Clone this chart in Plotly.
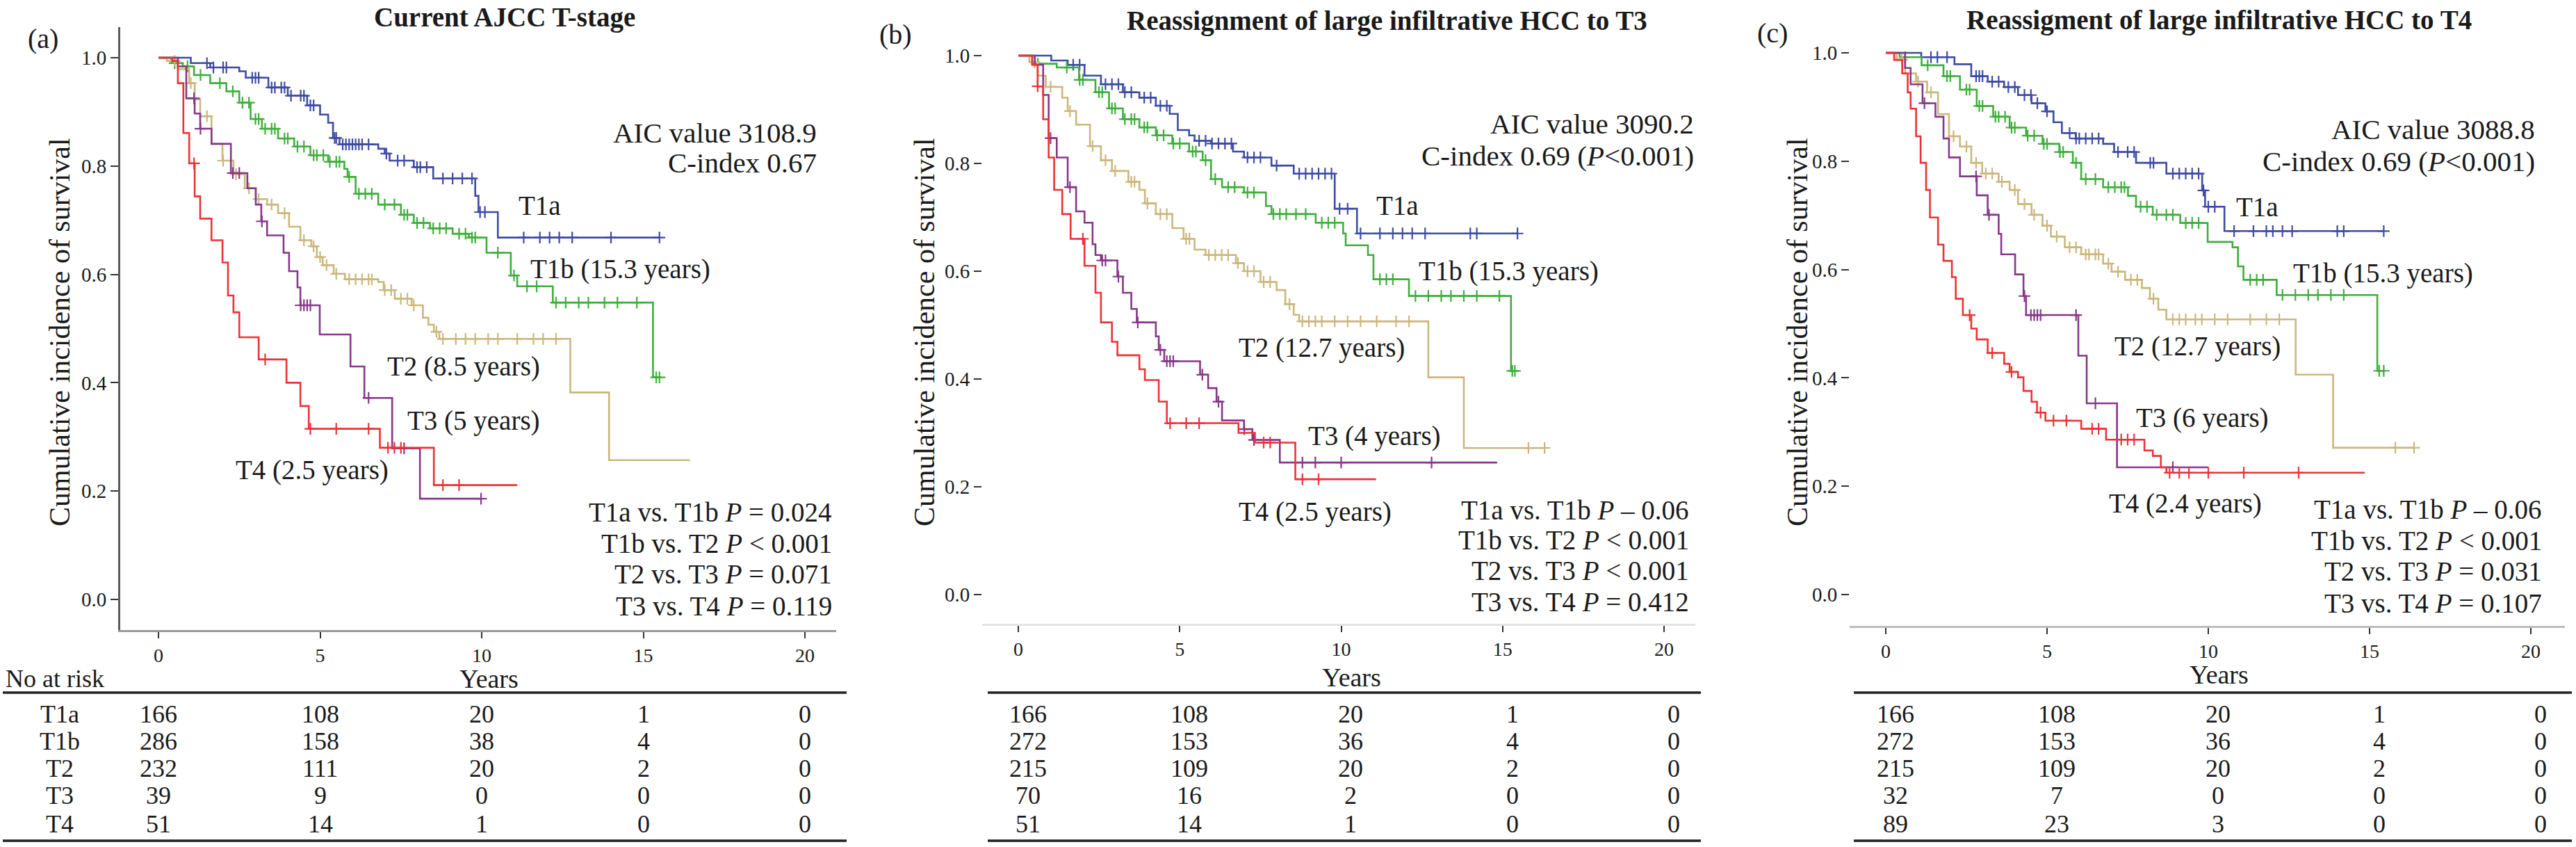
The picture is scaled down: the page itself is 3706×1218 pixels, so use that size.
import numpy as np
import plotly.graph_objects as go

W, H = 3706, 1218
FONT = "Liberation Serif, Times New Roman, serif"
TXT = "#1a1a1a"

groups = ["T1a", "T1b", "T2", "T3", "T4"]
colors = {"T1a": "#3d4ba3", "T1b": "#3fae3c", "T2": "#cbb77c", "T3": "#86378a", "T4": "#ec3236"}
year_ticks = [0, 5, 10, 15, 20]
surv_ticks = [0.0, 0.2, 0.4, 0.6, 0.8, 1.0]

# ---------------- Panel (a): Current AJCC T-stage ----------------
a_T1a_t = [1.0, 1.6, 2.5, 2.7, 3.4, 4.0, 4.6, 5.0, 5.25, 5.4, 5.6, 6.8, 7.0, 7.15, 7.9, 8.5, 9.8, 9.9, 10.5]
a_T1a_s = [0.99, 0.982, 0.975, 0.963, 0.945, 0.93, 0.912, 0.895, 0.88, 0.852, 0.84, 0.832, 0.823, 0.81, 0.798, 0.777, 0.745, 0.715, 0.668]
a_T1a_end = 15.5
a_T1a_c = [1.5, 1.7, 2.0, 2.1, 2.9, 3.0, 3.1, 3.5, 3.6, 3.8, 3.9, 4.1, 4.4, 4.5, 4.7, 4.8, 5.45, 5.5, 5.7, 5.8, 5.9, 6.0,
           6.1, 6.2, 6.3, 6.5, 7.05, 7.4, 7.6, 8.0, 8.1, 8.3, 8.8, 9.1, 9.4, 9.7, 9.95, 10.1, 11.3, 11.8, 12.1, 12.4,
           12.8, 14.0, 15.5]
a_T1b_t = [0.4, 0.75, 1.1, 1.6, 2.1, 2.5, 2.85, 3.2, 3.7, 4.2, 4.7, 5.25, 5.75, 5.85, 6.1, 6.8, 7.5, 7.9, 8.4, 9.1,
           9.6, 10.15, 10.9, 11.1, 12.2, 15.3]
a_T1b_s = [0.99, 0.984, 0.968, 0.953, 0.938, 0.917, 0.887, 0.869, 0.851, 0.836, 0.82, 0.808, 0.795, 0.78, 0.749,
           0.729, 0.71, 0.695, 0.685, 0.675, 0.668, 0.64, 0.598, 0.578, 0.548, 0.41]
a_T1b_end = 15.5
a_T1b_c = [0.5, 0.6, 0.9, 1.3, 1.9, 2.3, 2.6, 2.8, 3.0, 3.1, 3.3, 3.5, 3.6, 3.9, 4.0, 4.3, 4.5, 4.8, 4.9, 5.1, 5.3,
           5.5, 5.6, 5.9, 6.2, 6.4, 6.6, 7.0, 7.3, 7.6, 7.7, 8.0, 8.2, 8.5, 8.7, 8.9, 9.3, 9.5, 9.7, 9.8, 10.5, 11.0,
           11.4, 11.7, 12.3, 12.6, 13.0, 13.3, 13.8, 14.2, 14.8, 15.4, 15.5]
a_T2_t = [0.26, 0.6, 0.95, 1.12, 1.29, 1.64, 1.98, 2.32, 2.67, 3.01, 3.36, 3.7, 4.04, 4.39, 4.73, 4.9, 5.08, 5.42,
          5.77, 6.8, 6.97, 7.31, 7.83, 8.18, 8.35, 8.52, 8.69, 12.74, 13.94]
a_T2_s = [0.994, 0.979, 0.953, 0.923, 0.892, 0.841, 0.81, 0.785, 0.759, 0.739, 0.729, 0.713, 0.688, 0.663, 0.652,
          0.632, 0.617, 0.601, 0.591, 0.586, 0.571, 0.555, 0.543, 0.52, 0.507, 0.494, 0.481, 0.382, 0.257]
a_T2_end = 16.44
a_T2_c = [0.5, 1.0, 1.5, 2.0, 2.4, 2.8, 3.1, 3.5, 3.9, 4.5, 4.8, 5.0, 5.2, 5.5, 5.9, 6.1, 6.3, 6.5, 6.6, 7.0, 7.2,
          7.5, 7.7, 7.9, 8.6, 8.8, 9.2, 9.5, 9.8, 10.2, 10.5, 11.1, 11.6, 11.9, 12.3]
a_T3_t = [0.6, 0.86, 1.12, 1.29, 1.64, 2.24, 2.75, 3.01, 3.18, 3.36, 3.87, 4.04, 4.3, 4.39, 4.99, 5.94, 6.37, 7.23, 8.09]
a_T3_s = [0.984, 0.925, 0.897, 0.869, 0.841, 0.787, 0.759, 0.729, 0.698, 0.672, 0.64, 0.606, 0.576, 0.543, 0.489,
          0.43, 0.372, 0.279, 0.186]
a_T3_end = 9.98
a_T3_c = [1.1, 1.3, 2.3, 2.5, 3.2, 4.4, 4.5, 4.6, 4.7, 6.5, 7.6, 9.98]
a_T4_t = [0.43, 0.6, 0.77, 0.95, 1.12, 1.29, 1.64, 1.98, 2.15, 2.32, 2.5, 3.1, 3.96, 4.39, 4.65, 6.85, 8.52]
a_T4_s = [0.994, 0.953, 0.861, 0.805, 0.744, 0.703, 0.663, 0.622, 0.561, 0.53, 0.484, 0.443, 0.4, 0.357, 0.315,
          0.28, 0.211]
a_T4_end = 11.1
a_T4_c = [1.1, 3.3, 4.7, 5.5, 6.5, 7.1, 7.3, 7.5, 8.8, 9.3]

# ---------------- Panel (b): reassignment to T3 ----------------
b_T1a_t = [1.02, 1.53, 2.05, 2.56, 3.24, 3.75, 4.26, 4.69, 4.94, 5.29, 5.46, 5.97, 6.65, 6.99, 7.84, 8.53, 9.8, 10.49]
b_T1a_s = [0.991, 0.983, 0.963, 0.947, 0.932, 0.922, 0.907, 0.892, 0.862, 0.852, 0.842, 0.837, 0.822, 0.811, 0.796,
           0.781, 0.716, 0.67]
b_T1a_end = 15.46
b_T1a_c = [1.7, 1.9, 2.7, 2.9, 3.1, 3.3, 3.5, 3.9, 4.1, 4.4, 4.6, 5.6, 5.8, 6.0, 6.2, 6.4, 6.6, 7.1, 7.3, 7.5, 8.0,
           8.7, 8.9, 9.1, 9.3, 9.5, 9.7, 9.95, 10.2, 10.6, 11.2, 11.6, 11.9, 12.2, 12.6, 14.0, 14.2, 15.46]
b_T1b_t = [0.43, 1.19, 1.88, 2.39, 2.81, 3.24, 3.75, 4.26, 4.77, 5.29, 5.71, 5.97, 6.31, 6.99, 7.67, 7.84, 9.21,
           10.06, 10.14, 10.83, 11.0, 12.1, 15.26]
b_T1b_s = [0.985, 0.978, 0.955, 0.932, 0.902, 0.882, 0.867, 0.852, 0.837, 0.822, 0.806, 0.771, 0.756, 0.746, 0.721,
           0.706, 0.69, 0.67, 0.648, 0.63, 0.585, 0.554, 0.415]
b_T1b_end = 15.38
b_T1b_c = [0.6, 1.5, 1.9, 2.0, 2.5, 2.6, 2.9, 3.0, 3.3, 3.5, 3.6, 3.9, 4.0, 4.3, 4.5, 4.8, 5.0, 5.4, 5.5, 5.8, 6.1,
           6.5, 6.7, 7.1, 7.3, 7.9, 8.1, 8.3, 8.6, 8.9, 9.4, 9.6, 9.8, 11.2, 11.4, 11.6, 12.3, 12.7, 13.1, 13.4,
           13.8, 14.2, 14.9, 15.3, 15.38]
b_T2_t = [0.34, 0.6, 0.85, 1.36, 1.53, 1.79, 2.22, 2.56, 2.9, 3.41, 3.75, 3.92, 4.26, 4.77, 5.12, 5.46, 5.8, 6.74,
          6.99, 7.5, 8.0, 8.27, 8.53, 8.7, 12.7, 13.8]
b_T2_s = [0.988, 0.963, 0.942, 0.922, 0.897, 0.872, 0.832, 0.806, 0.786, 0.766, 0.751, 0.726, 0.706, 0.68, 0.66,
          0.64, 0.63, 0.615, 0.6, 0.58, 0.565, 0.539, 0.519, 0.507, 0.403, 0.272]
b_T2_end = 16.3
b_T2_c = [0.5, 1.0, 1.6, 2.3, 2.7, 3.0, 3.5, 3.6, 4.0, 4.4, 4.6, 5.2, 5.3, 5.9, 6.1, 6.3, 6.5, 6.8, 7.1, 7.3, 7.6,
          7.8, 8.4, 8.8, 9.0, 9.2, 9.4, 9.8, 10.2, 10.6, 11.1, 11.7, 12.1, 15.8, 16.3]
b_T3_t = [0.51, 0.77, 0.94, 1.19, 1.53, 1.79, 2.05, 2.3, 2.39, 2.56, 3.07, 3.24, 3.5, 3.67, 4.26, 4.35, 4.52, 5.63,
          5.88, 6.14, 6.31, 6.99, 7.25, 8.1]
b_T3_s = [0.983, 0.927, 0.847, 0.811, 0.756, 0.711, 0.69, 0.65, 0.63, 0.62, 0.59, 0.56, 0.53, 0.505, 0.479, 0.454,
          0.433, 0.408, 0.383, 0.358, 0.323, 0.307, 0.287, 0.245]
b_T3_end = 14.83
b_T3_c = [1.0, 1.6, 2.6, 2.7, 3.1, 3.7, 4.4, 4.6, 4.7, 4.8, 5.7, 6.2, 7.0, 7.3, 8.8, 9.2, 10.0, 12.8]
b_T4_t = [0.43, 0.6, 0.77, 0.94, 1.11, 1.36, 1.62, 2.05, 2.39, 2.56, 2.9, 3.07, 3.75, 3.92, 4.35, 4.6, 6.82, 7.33, 8.58]
b_T4_s = [0.983, 0.943, 0.882, 0.811, 0.751, 0.706, 0.66, 0.61, 0.56, 0.505, 0.469, 0.444, 0.418, 0.398, 0.358,
          0.318, 0.30, 0.282, 0.214]
b_T4_end = 11.08
b_T4_c = [0.6, 2.0, 4.7, 5.2, 5.6, 7.6, 7.8, 8.8, 9.3]

# ---------------- Panel (c): reassignment to T4 ----------------
c_T1a_t = [1.1, 2.13, 2.65, 3.16, 3.67, 4.1, 4.52, 4.95, 5.2, 5.46, 5.89, 6.74, 7.08, 7.76, 8.7, 9.81, 9.9, 10.5]
c_T1a_s = [0.992, 0.979, 0.957, 0.947, 0.937, 0.922, 0.907, 0.892, 0.872, 0.852, 0.842, 0.832, 0.817, 0.797, 0.777,
           0.746, 0.716, 0.671]
c_T1a_end = 15.44
c_T1a_c = [1.4, 1.6, 1.9, 2.8, 2.9, 3.0, 3.3, 3.5, 3.8, 4.0, 4.3, 4.5, 4.7, 5.0, 5.7, 5.9, 6.0, 6.2, 6.4, 6.6, 7.2,
           7.5, 7.7, 8.2, 8.3, 8.9, 9.1, 9.3, 9.5, 9.7, 9.85, 10.0, 10.2, 10.8, 11.4, 11.8, 12.0, 12.3, 12.6, 14.0,
           14.2, 15.44]
c_T1b_t = [0.43, 1.11, 1.79, 2.3, 2.82, 3.33, 3.84, 4.35, 4.86, 5.38, 5.8, 6.06, 6.74, 7.51, 7.76, 8.28, 9.13, 9.98,
           10.75, 10.92, 11.09, 12.12, 15.24]
c_T1b_s = [0.992, 0.977, 0.957, 0.932, 0.902, 0.882, 0.862, 0.847, 0.832, 0.817, 0.797, 0.767, 0.752, 0.736, 0.716,
           0.701, 0.686, 0.651, 0.641, 0.606, 0.581, 0.553, 0.413]
c_T1b_end = 15.44
c_T1b_c = [0.6, 1.3, 1.9, 2.0, 2.5, 2.6, 2.9, 3.0, 3.4, 3.5, 3.7, 3.9, 4.0, 4.4, 4.6, 4.9, 5.0, 5.4, 5.5, 5.9, 6.2,
           6.5, 6.9, 7.1, 7.3, 7.4, 7.9, 8.1, 8.4, 8.7, 8.9, 9.3, 9.5, 9.7, 11.3, 11.5, 11.7, 12.3, 12.7, 13.1, 13.4,
           13.8, 14.2, 15.3, 15.44]
c_T2_t = [0.34, 0.6, 0.94, 1.28, 1.62, 1.96, 2.3, 2.65, 2.99, 3.5, 3.84, 4.1, 4.52, 4.86, 5.12, 5.55, 6.06, 6.74,
          7.0, 7.42, 7.94, 8.19, 8.45, 8.7, 12.71, 13.87]
c_T2_s = [0.987, 0.962, 0.947, 0.927, 0.887, 0.846, 0.827, 0.797, 0.777, 0.762, 0.747, 0.721, 0.701, 0.681, 0.661,
          0.641, 0.628, 0.611, 0.596, 0.581, 0.566, 0.546, 0.526, 0.508, 0.406, 0.271]
c_T2_end = 16.38
c_T2_c = [0.5, 1.0, 1.4, 2.1, 2.5, 2.8, 3.1, 3.3, 3.6, 4.0, 4.3, 4.6, 5.0, 5.3, 5.7, 5.9, 6.2, 6.3, 6.5, 6.6, 6.9,
          7.2, 7.6, 7.8, 8.3, 8.9, 9.1, 9.3, 9.6, 9.8, 10.2, 10.6, 11.3, 11.8, 12.2, 15.8, 16.38]
c_T3_t = [0.6, 0.77, 1.14, 1.54, 1.79, 1.96, 2.3, 2.82, 3.16, 3.5, 3.58, 4.01, 4.27, 4.35, 5.97, 6.23, 7.17]
c_T3_s = [0.972, 0.942, 0.907, 0.882, 0.842, 0.807, 0.772, 0.737, 0.701, 0.666, 0.628, 0.591, 0.551, 0.516, 0.441,
          0.353, 0.235]
c_T3_end = 9.98
c_T3_c = [1.2, 2.8, 3.2, 4.3, 4.5, 4.6, 4.7, 4.8, 5.9, 6.5, 8.9]
c_T4_t = [0.26, 0.51, 0.68, 0.77, 0.94, 1.08, 1.25, 1.37, 1.62, 1.79, 2.05, 2.17, 2.39, 2.65, 2.82, 3.16, 3.67, 3.84,
          4.1, 4.27, 4.52, 4.69, 4.95, 6.06, 6.83, 8.02, 8.28, 8.53, 8.7]
c_T4_s = [0.987, 0.962, 0.927, 0.897, 0.846, 0.797, 0.747, 0.696, 0.646, 0.616, 0.586, 0.546, 0.516, 0.491, 0.471,
          0.446, 0.426, 0.411, 0.401, 0.376, 0.356, 0.336, 0.321, 0.306, 0.286, 0.266, 0.256, 0.235, 0.225]
c_T4_end = 14.85
c_T4_c = [2.6, 3.3, 3.9, 4.8, 5.2, 5.6, 6.4, 6.6, 7.3, 7.5, 7.7, 8.8, 9.1, 9.4, 10.0, 11.1, 12.8]

# ---------------- Numbers at risk ----------------
a_risk = {"T1a": [166, 108, 20, 1, 0], "T1b": [286, 158, 38, 4, 0], "T2": [232, 111, 20, 2, 0],
          "T3": [39, 9, 0, 0, 0], "T4": [51, 14, 1, 0, 0]}
b_risk = {"T1a": [166, 108, 20, 1, 0], "T1b": [272, 153, 36, 4, 0], "T2": [215, 109, 20, 2, 0],
          "T3": [70, 16, 2, 0, 0], "T4": [51, 14, 1, 0, 0]}
c_risk = {"T1a": [166, 108, 20, 1, 0], "T1b": [272, 153, 36, 4, 0], "T2": [215, 109, 20, 2, 0],
          "T3": [32, 7, 0, 0, 0], "T4": [89, 23, 3, 0, 0]}

# ---------------- Text ----------------
titles = ["Current AJCC T-stage", "Reassignment of large infiltrative HCC to T3",
          "Reassigment of large infiltrative HCC to T4"]
panel_tags = ["(a)", "(b)", "(c)"]
aic_text = ["AIC value 3108.9", "AIC value 3090.2", "AIC value 3088.8"]
cidx_text = ["C-index 0.67", "C-index 0.69 (<i>P</i><0.001)", "C-index 0.69 (<i>P</i><0.001)"]
curve_labels = [
    ["T1a", "T1b (15.3 years)", "T2 (8.5 years)", "T3 (5 years)", "T4 (2.5 years)"],
    ["T1a", "T1b (15.3 years)", "T2 (12.7 years)", "T3 (4 years)", "T4 (2.5 years)"],
    ["T1a", "T1b (15.3 years)", "T2 (12.7 years)", "T3 (6 years)", "T4 (2.4 years)"],
]
pval_text = [
    ["T1a vs. T1b <i>P</i> = 0.024", "T1b vs. T2 <i>P</i> < 0.001", "T2 vs. T3 <i>P</i> = 0.071",
     "T3 vs. T4 <i>P</i> = 0.119"],
    ["T1a vs. T1b <i>P</i> – 0.06", "T1b vs. T2 <i>P</i> < 0.001", "T2 vs. T3 <i>P</i> < 0.001",
     "T3 vs. T4 <i>P</i> = 0.412"],
    ["T1a vs. T1b <i>P</i> – 0.06", "T1b vs. T2 <i>P</i> < 0.001", "T2 vs. T3 <i>P</i> = 0.031",
     "T3 vs. T4 <i>P</i> = 0.107"],
]

G = globals()
panels_data = []
for p in "abc":
    d = {}
    for g in groups:
        d[g] = (G[f"{p}_{g}_t"], G[f"{p}_{g}_s"], G[f"{p}_{g}_end"], G[f"{p}_{g}_c"])
    panels_data.append(d)
risks = [a_risk, b_risk, c_risk]

# ---------------- Layout geometry (pixels) ----------------
geo = [
    dict(xl=173, xr=1203, x0=228, x20=1158, yt=39, yb=906, y1=83, y0=862,
         yline=True, xline_col="#9a9a9a", yline_col="#5a5a5a",
         title=(726, 25), tag=(62, 55), aic=(1177, 191), cidx=(1177, 234),
         lab=[(744, 295), (761, 387), (555, 527), (584, 605), (337, 676)],
         pv=(1199, [736, 781, 826, 871]), ytitle=(86, 478), years=(703, 976),
         table=(4, 1218), risk_dx=0.0),
    dict(xl=1413, xr=2439, x0=1465, x20=2394, yt=37, yb=897, y1=80, y0=855,
         yline=False, xline_col="#e4e4e4", yline_col="#5a5a5a",
         title=(1995, 30), tag=(1288, 49), aic=(2439, 178), cidx=(2439, 224),
         lab=[(1978, 295), (2039, 390), (1780, 500), (1880, 627), (1780, 736)],
         pv=(2432, [733, 776, 820, 865]), ytitle=(1330, 478), years=(1944, 974),
         table=(1421, 2447), risk_dx=0.3),
    dict(xl=2661, xr=3690, x0=2713, x20=3641, yt=36, yb=900, y1=76, y0=855,
         yline=False, xline_col="#bdbdbd", yline_col="#5a5a5a",
         title=(3192, 29), tag=(2550, 47), aic=(3649, 186), cidx=(3649, 232),
         lab=[(3215, 297), (3297, 393), (3040, 498), (3071, 601), (3032, 724)],
         pv=(3659, [732, 777, 822, 867]), ytitle=(2586, 478), years=(3192, 970),
         table=(2667, 3700), risk_dx=0.3),
]
row_y = [1027, 1066, 1105, 1144, 1185]


def px(x):
    return x / W


def py(y):
    return 1 - y / H


fig = go.Figure()
annotations = []
shapes = []
layout_axes = {}

for i, (d, gm) in enumerate(zip(panels_data, geo)):
    k = "" if i == 0 else str(i + 1)
    xa, ya = "x" + k, "y" + k
    ppy = (gm["x20"] - gm["x0"]) / 20.0
    xr = [(gm["xl"] - gm["x0"]) / ppy, (gm["xr"] - gm["x0"]) / ppy]
    ppv = gm["y0"] - gm["y1"]
    yr = [-(gm["yb"] - gm["y0"]) / ppv, 1 + (gm["y1"] - gm["yt"]) / ppv]

    for g in groups:
        t, s, tend, cens = d[g]
        xs = [0.0] + list(t) + [tend]
        ys = [1.0] + list(s) + [s[-1]]
        fig.add_trace(go.Scatter(x=xs, y=ys, mode="lines", line=dict(color=colors[g], width=2.6, shape="hv"),
                                 xaxis=xa, yaxis=ya, hoverinfo="skip", showlegend=False))
        tt = np.array([0.0] + list(t))
        ss = np.array([1.0] + list(s))
        cy = ss[np.searchsorted(tt, np.array(cens), side="right") - 1]
        fig.add_trace(go.Scatter(x=cens, y=cy, mode="markers",
                                 marker=dict(symbol="cross-thin", size=12, line=dict(color=colors[g], width=2.2)),
                                 xaxis=xa, yaxis=ya, hoverinfo="skip", showlegend=False))

    layout_axes["xaxis" + k] = dict(
        domain=[px(gm["xl"]), px(gm["xr"])], range=xr, anchor=ya, tickmode="array", tickvals=year_ticks,
        ticks="outside", ticklen=9, tickwidth=2, tickcolor="#333", showline=True, linecolor=gm["xline_col"],
        linewidth=3, showgrid=False, zeroline=False, tickfont=dict(family=FONT, size=28, color=TXT))
    layout_axes["yaxis" + k] = dict(
        domain=[py(gm["yb"]), py(gm["yt"])], range=yr, anchor=xa, tickmode="array", tickvals=surv_ticks,
        tickformat=".1f", ticks="outside", ticklen=11, tickwidth=2, tickcolor="#333", showline=gm["yline"],
        linecolor=gm["yline_col"], linewidth=3, showgrid=False, zeroline=False,
        tickfont=dict(family=FONT, size=29, color=TXT))

    def ann(text, x, y, xanchor="center", size=39, **kw):
        annotations.append(dict(text=text, x=px(x), y=py(y), xref="paper", yref="paper", xanchor=xanchor,
                                yanchor="middle", showarrow=False,
                                font=dict(family=FONT, size=size, color=TXT), **kw))

    ann("<b>" + titles[i] + "</b>", gm["title"][0], gm["title"][1], size=39)
    ann(panel_tags[i], gm["tag"][0], gm["tag"][1], size=40)
    ann(aic_text[i], gm["aic"][0], gm["aic"][1], xanchor="right", size=41)
    ann(cidx_text[i], gm["cidx"][0], gm["cidx"][1], xanchor="right", size=41)
    for lbl, (lx, ly) in zip(curve_labels[i], gm["lab"]):
        ann(lbl, lx, ly, xanchor="left", size=39)
    for txt, yy in zip(pval_text[i], gm["pv"][1]):
        ann(txt, gm["pv"][0], yy, xanchor="right", size=39)
    ann("Cumulative incidence of survival", gm["ytitle"][0], gm["ytitle"][1], size=42, textangle=-90)
    ann("Years", gm["years"][0], gm["years"][1], size=38)

    # at-risk table
    for r, g in enumerate(groups):
        for j, yv in enumerate(year_ticks):
            annotations.append(dict(text=str(risks[i][g][j]), x=yv + gm["risk_dx"], y=py(row_y[r]),
                                    xref=xa, yref="paper", xanchor="center", yanchor="middle", showarrow=False,
                                    font=dict(family=FONT, size=36, color=TXT)))
        if i == 0:
            ann(g, 86, row_y[r], size=36)
    for ly in (996, 1209):
        shapes.append(dict(type="line", xref="paper", yref="paper", x0=px(gm["table"][0]), x1=px(gm["table"][1]),
                           y0=py(ly), y1=py(ly), line=dict(color="#222222", width=3.5)))

annotations.append(dict(text="No at risk", x=px(6), y=py(976), xref="paper", yref="paper", xanchor="left",
                        yanchor="middle", showarrow=False, font=dict(family=FONT, size=36, color=TXT)))

fig.update_layout(width=W, height=H, margin=dict(l=0, r=0, t=0, b=0), paper_bgcolor="white",
                  plot_bgcolor="white", showlegend=False, annotations=annotations, shapes=shapes, **layout_axes)

fig.write_html("out.html", config={"displayModeBar": False},
               post_script="document.body.style.margin='0';document.body.style.overflow='hidden';")
